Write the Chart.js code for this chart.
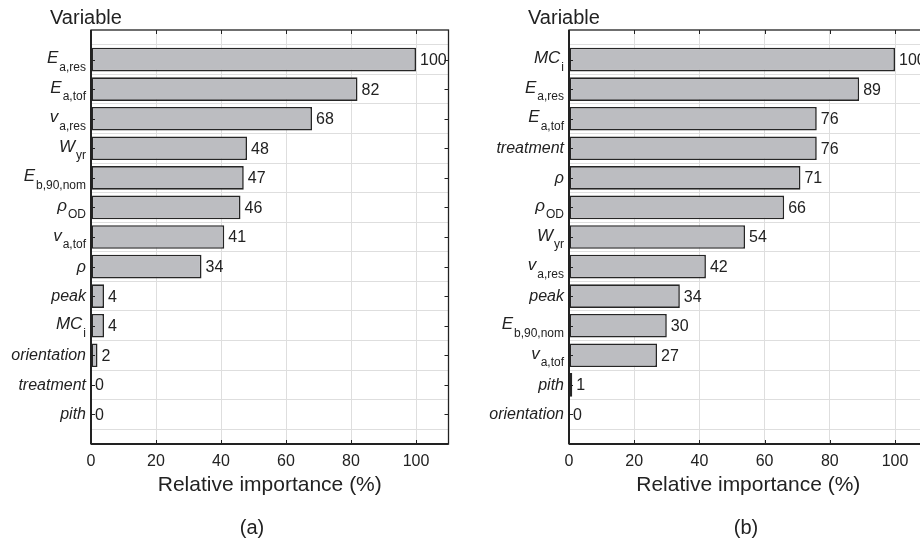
<!DOCTYPE html>
<html>
<head>
<meta charset="utf-8">
<script src="https://cdn.jsdelivr.net/npm/chart.js@4"></script>
<style>
  html, body { margin: 0; padding: 0; background: #fff; overflow: hidden; }
  body { width: 920px; height: 543px; position: relative; }
  canvas { position: absolute; top: 0; }
  #chartA { left: 0; }
  #chartB { left: 460px; }
</style>
</head>
<body>
<canvas id="chartA" width="460" height="543"></canvas>
<canvas id="chartB" width="500" height="543"></canvas>
<script>
// ----------------------------------------------------------------------
// variables are written as name_subscript
const varsA   = ["E_a,res","E_a,tof","v_a,res","W_yr","E_b,90,nom","ρ_OD","v_a,tof","ρ","peak","MC_i","orientation","treatment","pith"]
const valuesA = [100, 82, 68, 48, 47, 46, 41, 34, 4, 4, 2, 0, 0]

const varsB   = ["MC_i","E_a,res","E_a,tof","treatment","ρ","ρ_OD","W_yr","v_a,res","peak","E_b,90,nom","v_a,tof","pith","orientation"]
const valuesB = [100, 89, 76, 76, 71, 66, 54, 42, 34, 30, 27, 1, 0]

const xTicks = [0, 20, 40, 60, 80, 100]

const FONT = "'Liberation Sans', Arial, Helvetica, sans-serif"
const INK = '#222222'

// ----------------------------------------------------------------------
// axis box, inward ticks, italic labels with subscripts, bar values
const decorations = {
    id: 'decorations',
    afterDatasetsDraw(chart, args, opts) {
        const ctx = chart.ctx
        const a = chart.chartArea
        const xs = chart.scales.x
        const ys = chart.scales.y
        const vars = opts.vars
        const values = opts.values

        ctx.save()
        ctx.strokeStyle = INK
        ctx.lineWidth = 1.3
        ctx.strokeRect(a.left, a.top, a.right - a.left, a.bottom - a.top)
        ctx.lineWidth = 2
        ctx.beginPath()
        ctx.moveTo(a.left, a.top)
        ctx.lineTo(a.left, a.bottom)
        ctx.moveTo(a.left, a.bottom)
        ctx.lineTo(a.right, a.bottom)
        ctx.stroke()

        // inward tick marks
        ctx.lineWidth = 1
        ctx.beginPath()
        xTicks.forEach(v => {
            const px = Math.round(xs.getPixelForValue(v)) + 0.5
            ctx.moveTo(px, a.top); ctx.lineTo(px, a.top + 4)
            ctx.moveTo(px, a.bottom); ctx.lineTo(px, a.bottom - 4)
        })
        vars.forEach((v, i) => {
            const py = Math.round(ys.getPixelForValue(i + 1)) + 0.5
            ctx.moveTo(a.left, py); ctx.lineTo(a.left + 4, py)
            ctx.moveTo(a.right, py); ctx.lineTo(a.right - 4, py)
        })
        ctx.stroke()

        // variable names
        ctx.fillStyle = INK
        ctx.textBaseline = 'alphabetic'
        vars.forEach((v, i) => {
            const cy = ys.getPixelForValue(i + 1)
            const right = a.left - 5
            const cut = v.indexOf('_')
            if (cut < 0) {
                ctx.font = 'italic 16px ' + FONT
                ctx.textAlign = 'right'
                ctx.fillText(v, right, cy + 5)
            } else {
                const main = v.slice(0, cut)
                const sub = v.slice(cut + 1)
                ctx.font = '12px ' + FONT
                const subW = ctx.measureText(sub).width
                ctx.textAlign = 'left'
                ctx.fillText(sub, right - subW, cy + 11)
                ctx.font = 'italic 17px ' + FONT
                const mainW = ctx.measureText(main).width
                ctx.fillText(main, right - subW - mainW - 1, cy + 3.5)
            }
        })

        // values at bar ends
        ctx.font = '16px ' + FONT
        ctx.textAlign = 'left'
        ctx.textBaseline = 'middle'
        values.forEach((v, i) => {
            ctx.fillText(String(v), xs.getPixelForValue(v) + 4, ys.getPixelForValue(i + 1) + 1)
        })

        // header and panel tag
        ctx.font = '20px ' + FONT
        ctx.textBaseline = 'alphabetic'
        ctx.fillText('Variable', a.left - 41, 24)
        ctx.font = '20px ' + FONT
        ctx.textAlign = 'center'
        ctx.fillText(opts.tag, opts.tagX, 534)
        ctx.restore()
    }
}

function makeChart(id, vars, values, padLeft, padRight, tag, tagX) {
    const labels = [''].concat(vars, [''])
    const data = [null].concat(values, [null])
    const config = {
        type: 'bar',
        data: {
            labels: labels,
            datasets: [{
                data: data,
                backgroundColor: '#bcbdc1',
                borderColor: '#262626',
                borderWidth: 1.6,
                borderSkipped: false,
                barPercentage: 0.8,
                categoryPercentage: 1
            }]
        },
        options: {
            indexAxis: 'y',
            responsive: false,
            animation: false,
            events: [],
            layout: { padding: { left: padLeft, right: padRight, top: 30, bottom: 39 } },
            plugins: {
                legend: { display: false },
                tooltip: { enabled: false },
                decorations: { vars: vars, values: values, tag: tag, tagX: tagX }
            },
            scales: {
                x: {
                    type: 'linear',
                    min: 0,
                    max: 110,
                    afterBuildTicks: s => { s.ticks = xTicks.map(v => ({ value: v })) },
                    afterFit: s => { s.height = 60 },
                    grid: { color: '#dedede', lineWidth: 1, drawTicks: false },
                    border: { display: false },
                    ticks: { padding: 8, color: INK, font: { family: FONT, size: 16 } },
                    title: {
                        display: true,
                        text: 'Relative importance (%)',
                        color: INK,
                        font: { family: FONT, size: 21 },
                        padding: { top: 0, bottom: 6 }
                    }
                },
                y: {
                    offset: false,
                    afterFit: s => { s.width = 0 },
                    grid: { color: '#dedede', lineWidth: 1, drawTicks: false },
                    border: { display: false },
                    ticks: { display: false }
                }
            }
        },
        plugins: [decorations]
    }
    return new Chart(document.getElementById(id), config)
}

const chartA = makeChart('chartA', varsA, valuesA, 91, 11.5, '(a)', 252)
const chartB = makeChart('chartB', varsB, valuesB, 109, 32.4, '(b)', 286)
</script>
</body>
</html>
